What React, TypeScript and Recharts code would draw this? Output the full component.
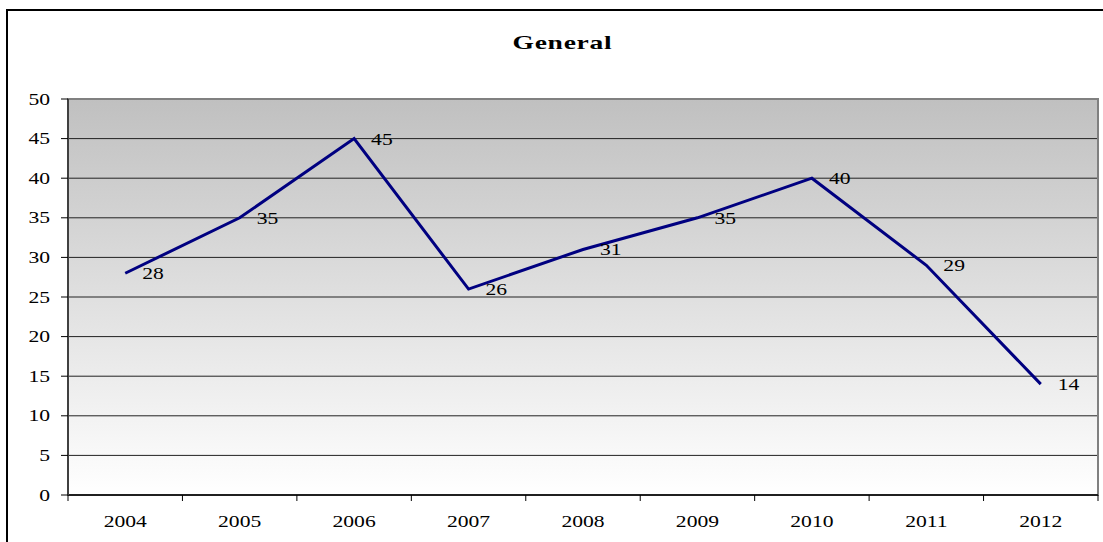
import React from "react"
import { LineChart, Line, XAxis, YAxis, CartesianGrid, LabelList, ReferenceArea } from "recharts"

const years = ["2004", "2005", "2006", "2007", "2008", "2009", "2010", "2011", "2012"]
const general = [28, 35, 45, 26, 31, 35, 40, 29, 14]
const yTicks = [0, 5, 10, 15, 20, 25, 30, 35, 40, 45, 50]

const data = years.map((year, i) => ({ year, value: general[i] }))

const serif = "Liberation Serif, Times New Roman, serif"
const stretch = 1.35
const textStyle = { fontFamily: serif, fontSize: 16 }

function YearTick(props: any) {
  const { x, y, payload, index } = props
  const half = payload?.offset ?? 0
  return (
    <g>
      <line x1={x - half} y1={y} x2={x - half} y2={y + 6} stroke="#000" strokeWidth={1} />
      {index === years.length - 1 && (
        <line x1={x + half} y1={y} x2={x + half} y2={y + 6} stroke="#000" strokeWidth={1} />
      )}
      <text
        transform={`translate(${x},${y + 32}) scale(${stretch},1)`}
        textAnchor="middle"
        style={textStyle}
        fill="#000"
      >
        {payload.value}
      </text>
    </g>
  )
}

function ValueTick(props: any) {
  const { x, y, payload } = props
  return (
    <text
      transform={`translate(${x},${y + 5.5}) scale(${stretch},1)`}
      textAnchor="end"
      style={textStyle}
      fill="#000"
    >
      {payload.value}
    </text>
  )
}

function PointLabel(props: any) {
  const { x, y, value } = props
  return (
    <text
      transform={`translate(${x + 17},${y + 6}) scale(${stretch},1)`}
      textAnchor="start"
      style={textStyle}
      fill="#000"
    >
      {value}
    </text>
  )
}

export default function App() {
  return (
    <div
      style={{
        position: "fixed",
        left: 0,
        top: 0,
        width: 1103,
        height: 542,
        background: "#fff",
        overflow: "hidden",
      }}
    >
      <div
        style={{
          position: "absolute",
          left: 6,
          top: 9,
          width: 1200,
          height: 700,
          border: "2px solid #000",
        }}
      />
      <div
        style={{
          position: "absolute",
          left: 0,
          width: 1124,
          top: 31,
          textAlign: "center",
          fontFamily: serif,
          fontWeight: "bold",
          fontSize: 19,
          lineHeight: "24px",
        }}
      >
        <span style={{ display: "inline-block", transform: "scaleX(1.45)", letterSpacing: 0.5 }}>General</span>
      </div>
      <div style={{ position: "absolute", left: 0, top: 0 }}>
        <LineChart width={1103} height={542} data={data} margin={{ top: 99, right: 5, bottom: 0, left: 0 }}>
          <defs>
            <linearGradient id="plotBg" x1="0" y1="0" x2="0" y2="1">
              <stop offset="0%" stopColor="#c0c0c0" />
              <stop offset="100%" stopColor="#ffffff" />
            </linearGradient>
          </defs>
          <CartesianGrid vertical={false} stroke="#222" strokeWidth={1} fill="url(#plotBg)" />
          <XAxis
            dataKey="year"
            scale="band"
            height={47}
            axisLine={{ stroke: "#000", strokeWidth: 1.5 }}
            tickLine={false}
            tickSize={0}
            tickMargin={0}
            interval={0}
            tick={<YearTick />}
          />
          <YAxis
            domain={[0, 50]}
            ticks={yTicks}
            width={68}
            interval={0}
            axisLine={{ stroke: "#404040", strokeWidth: 2 }}
            tickLine={{ stroke: "#000" }}
            tickSize={7}
            tickMargin={11}
            tick={<ValueTick />}
          />
          <ReferenceArea y1={0} y2={50} fill="none" stroke="#808080" strokeWidth={2} />
          <Line
            dataKey="value"
            stroke="#000080"
            strokeWidth={3}
            dot={false}
            isAnimationActive={false}
          >
            <LabelList dataKey="value" content={<PointLabel />} />
          </Line>
        </LineChart>
      </div>
    </div>
  )
}
